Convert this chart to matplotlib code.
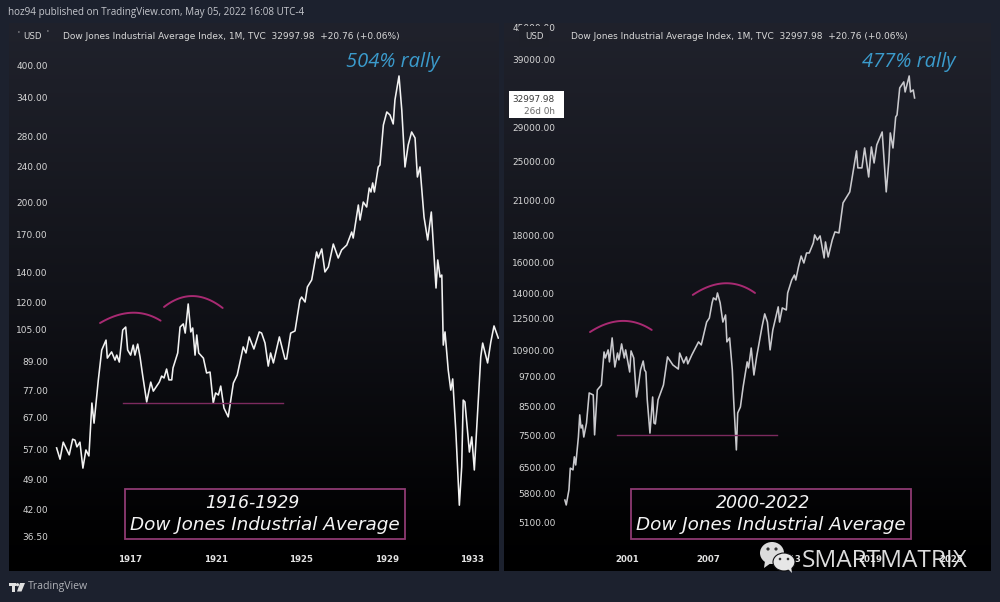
import numpy as np
import matplotlib
matplotlib.use("Agg")
from matplotlib import pyplot as plt
from matplotlib.patches import Rectangle, Ellipse, Polygon, Circle

# left panel, monthly close (1913-1934)
dow_1916_years = [
    1913.57,1913.73,1913.88,1914.16,1914.32,1914.43,1914.52,1914.66,1914.80,1914.94,
    1915.08,1915.22,1915.32,1915.52,1915.68,1915.88,1915.94,1916.14,1916.30,1916.38,
    1916.50,1916.66,1916.80,1916.89,1917.03,1917.15,1917.23,1917.36,1917.47,1917.59,
    1917.78,1917.97,1918.09,1918.37,1918.48,1918.59,1918.71,1918.82,1918.95,1919.01,
    1919.23,1919.34,1919.49,1919.58,1919.72,1919.84,1919.93,1920.04,1920.12,1920.21,
    1920.43,1920.58,1920.74,1920.89,1921.00,1921.13,1921.24,1921.39,1921.59,1921.83,
    1922.01,1922.29,1922.42,1922.57,1922.79,1923.04,1923.15,1923.31,1923.46,1923.57,
    1923.70,1923.98,1924.24,1924.32,1924.51,1924.71,1924.94,1925.02,1925.18,1925.29,
    1925.49,1925.72,1925.80,1925.96,1926.11,1926.27,1926.50,1926.73,1926.89,1927.13,
    1927.36,1927.43,1927.67,1927.75,1927.90,1928.06,1928.18,1928.26,1928.34,1928.42,
    1928.60,1928.68,1928.84,1929.00,1929.15,1929.30,1929.38,1929.57,1929.70,1929.85,
    1930.00,1930.16,1930.32,1930.43,1930.55,1930.74,1930.91,1931.08,1931.30,1931.38,
    1931.49,1931.57,1931.64,1931.72,1931.87,1931.99,1932.08,1932.23,1932.39,1932.50,
    1932.57,1932.65,1932.86,1932.97,1933.09,1933.23,1933.39,1933.48,1933.71,1933.86,
    1934.01,1934.21]
dow_1916 = [
    57.4,54.2,59.1,55.4,60.0,59.7,57.7,59.1,51.8,56.8,55.1,72.1,65.1,81.1,94.4,99.3,90.6,93.5,89.7,92.0,
    88.8,104.5,106.1,94.4,92.0,96.8,92.0,97.3,91.1,83.1,72.5,80.2,76.6,80.2,82.7,81.9,85.7,81.1,81.1,86.2,
    93.0,106.1,107.8,102.9,119.3,103.5,105.6,92.0,101.9,93.0,90.6,84.0,84.4,72.1,75.9,75.1,78.6,70.3,67.2,79.8,
    83.1,95.9,93.0,100.9,94.9,103.5,102.9,97.8,87.0,93.0,88.4,100.9,90.2,90.2,102.9,104.0,121.7,123.6,120.5,130.1,
    134.8,155.4,150.7,157.8,140.4,144.0,161.8,150.7,157.0,161.0,172.0,166.8,197.3,182.8,200.3,195.3,215.1,210.8,220.7,210.8,
    239.4,241.8,296.3,316.6,311.8,297.9,336.5,380.2,319.8,239.4,267.7,286.0,277.4,227.5,239.4,185.6,165.2,190.4,129.4,149.2,
    136.8,138.2,96.8,103.5,85.3,77.0,81.5,61.9,42.9,52.1,73.2,72.5,56.2,60.7,51.3,67.2,91.1,97.8,88.4,98.3,106.7,100.3]

# right panel (1996-2022)
dow_2000_years = [
    1996.4,1996.5,1996.7,1996.8,1997.0,1997.1,1997.2,1997.4,1997.5,1997.6,
    1997.7,1997.8,1998.0,1998.2,1998.5,1998.6,1998.8,1999.1,1999.3,1999.4,
    1999.6,1999.7,1999.9,2000.1,2000.3,2000.4,2000.6,2000.8,2000.9,2001.2,
    2001.3,2001.5,2001.7,2001.8,2002.0,2002.2,2002.3,2002.4,2002.5,2002.7,
    2002.9,2003.0,2003.1,2003.3,2003.7,2004.0,2004.4,2004.8,2004.9,2005.2,
    2005.4,2005.5,2005.8,2006.3,2006.5,2006.9,2007.1,2007.3,2007.4,2007.6,
    2007.7,2007.9,2008.1,2008.3,2008.4,2008.6,2008.8,2008.9,2009.1,2009.2,
    2009.4,2009.6,2009.9,2010.0,2010.2,2010.4,2010.6,2011.0,2011.2,2011.4,
    2011.6,2011.8,2012.2,2012.3,2012.5,2012.8,2012.9,2013.2,2013.4,2013.5,
    2013.7,2013.9,2014.1,2014.3,2014.5,2014.8,2014.9,2015.1,2015.3,2015.6,
    2015.7,2015.9,2016.2,2016.4,2016.7,2017.0,2017.5,2017.8,2018.0,2018.1,
    2018.4,2018.6,2018.9,2019.1,2019.3,2019.5,2019.9,2020.2,2020.4,2020.5,
    2020.7,2020.9,2021.0,2021.2,2021.5,2021.6,2021.9,2022.0,2022.2,2022.3]
dow_2000 = [
    5640,5520,5900,6490,6440,6820,6580,7440,8200,7740,7840,7440,7910,9030,8950,7510,
    9150,9350,10810,10530,10910,10350,11500,10120,10760,10440,11200,10530,10910,9900,
    10860,10530,8870,9150,9990,10390,9990,9900,8760,7570,8870,7910,7880,8760,9350,10580,
    10210,10030,10760,10300,10580,10260,10670,11300,11150,12330,12550,13410,13710,13590,
    14010,13410,12330,12720,11300,11500,9990,8760,7030,8270,8490,9270,10350,10080,11000,
    9770,10580,12070,12780,12330,10910,11910,13180,12330,13120,13000,14010,14830,15160,
    14830,15710,16480,15980,16700,16700,17450,18080,17680,18000,16340,17530,16410,17680,
    18320,18240,20810,21840,24370,26150,24270,24270,26490,23320,26610,24800,26850,28420,
    21840,25130,28300,26490,30360,30630,34490,35410,33880,36350,33880,34180,33000]

# axis ticks
left_yticks = [400, 340, 280, 240, 200, 170, 140, 120, 105, 89, 77, 67, 57, 49, 42, 36.5]
right_yticks = [45000, 39000, 29000, 25000, 21000, 18000, 16000, 14000, 12500, 10900,
                9700, 8500, 7500, 6500, 5800, 5100]
left_xticks = [1917, 1921, 1925, 1929, 1933]
right_xticks = [2001, 2007, 2013, 2019, 2025]

# hand drawn arcs (start, top, end) and support lines
left_arcs = [[(1915.6, 108.3), (1917.08, 114.1), (1918.43, 109.6)],
             [(1918.59, 117.5), (1919.94, 124.2), (1921.33, 116.9)]]
right_arcs = [[(1998.26, 11800), (2000.61, 12390), (2002.83, 11910)],
              [(2005.87, 13890), (2008.26, 14620), (2010.48, 14010)]]
left_support = ([1916.66, 1924.15], [72.2, 72.2])
right_support = ([2000.26, 2012.11], [7510, 7510])

title_txt = "Dow Jones Industrial Average Index, 1M, TVC  32997.98  +20.76 (+0.06%)"
OUTER = "#1c212e"
PINK = "#a82a72"
W, H = 1000, 602

fig = plt.figure(figsize=(W / 100, H / 100), dpi=100, facecolor=OUTER)

# panel backgrounds -----------------------------------------------------------
bg = fig.add_axes([0, 0, 1, 1], zorder=0)
bg.set_xlim(0, W)
bg.set_ylim(H, 0)
bg.axis("off")
ypix = np.arange(23, 572)
grad = np.stack([np.interp(ypix, [23, 300, 520, 571], [32, 17, 2, 0]),
                 np.interp(ypix, [23, 300, 520, 571], [34, 18, 2, 0]),
                 np.interp(ypix, [23, 300, 520, 571], [44, 24, 3, 0])], axis=1) / 255
grad = grad[:, np.newaxis, :]
bg.imshow(grad, extent=[9, 499, 571, 23], aspect="auto", interpolation="bilinear")
bg.imshow(grad, extent=[504, 991, 571, 23], aspect="auto", interpolation="bilinear")
bg.set_xlim(0, W)
bg.set_ylim(H, 0)


def make_panel(x0, x1, xlim, ylim, yticks, ylabels, xticks, pad):
    ax = fig.add_axes([x0 / W, 1 - 571 / H, (x1 - x0) / W, 548 / H], zorder=1)
    ax.patch.set_alpha(0)
    ax.set_yscale("log")
    ax.set_xlim(*xlim)
    ax.set_ylim(*ylim)
    ax.set_yticks(yticks, ylabels)
    ax.set_xticks(xticks, [str(t) for t in xticks])
    ax.minorticks_off()
    # pads are in points, negative puts the labels inside the panel
    ax.tick_params(axis="y", length=0, pad=pad, labelsize=6.5, labelcolor="#d6d6d6")
    ax.tick_params(axis="x", length=0, pad=-11.2, labelsize=6.2, labelcolor="#e2e2e2")
    for t in ax.get_xticklabels():
        t.set_fontweight("bold")
    for s in ax.spines.values():
        s.set_visible(False)
    return ax


def draw_arc(ax, arc):
    # quadratic through the three read points, straight in log space
    (xa, ya), (xm, ym), (xb, yb) = arc
    la, lm, lb = np.log(ya), np.log(ym), np.log(yb)
    t = np.linspace(0, 1, 40)
    cx = 2 * xm - (xa + xb) / 2
    cy = 2 * lm - (la + lb) / 2
    xs = (1 - t) ** 2 * xa + 2 * t * (1 - t) * cx + t ** 2 * xb
    ys = (1 - t) ** 2 * la + 2 * t * (1 - t) * cy + t ** 2 * lb
    ax.plot(xs, np.exp(ys), color=PINK, lw=1.4, solid_capstyle="round")


ax1 = make_panel(9, 499, (1911.346, 1934.243), (30.7, 497.7), left_yticks,
                 ["%.2f" % v for v in left_yticks], left_xticks, -28)
ax1.plot(dow_1916_years, dow_1916, color="#f2f2f2", lw=1.15)
for arc in left_arcs:
    draw_arc(ax1, arc)
ax1.plot(*left_support, color="#7c2a5e", lw=1)

ax2 = make_panel(504, 991, (1991.89, 2027.96), (4130, 45870), right_yticks,
                 ["%.2f" % v for v in right_yticks], right_xticks, -37)
ax2.plot(dow_2000_years, dow_2000, color="#c9c9cd", lw=1.15)
for arc in right_arcs:
    draw_arc(ax2, arc)
ax2.plot(*right_support, color="#7c2a5e", lw=1)

# everything else sits on a pixel overlay -------------------------------------
ov = fig.add_axes([0, 0, 1, 1], zorder=2)
ov.set_xlim(0, W)
ov.set_ylim(H, 0)
ov.axis("off")

ov.text(8.5, 13, "hoz94 published on TradingView.com, May 05, 2022 16:08 UTC-4", fontsize=7.1,
        family="Open Sans", color="#c4c6cc", va="center")
ov.text(63, 36.5, title_txt, fontsize=6.5, family="DejaVu Sans", color="#d8d8d8", va="center")
ov.text(571, 36.5, title_txt, fontsize=6.5, family="DejaVu Sans", color="#d8d8d8", va="center")

ov.text(33, 36.5, "USD", fontsize=6.2, color="#d8d8d8", ha="center", va="center")
ov.text(18, 33, "'", fontsize=5, color="#d8d8d8", ha="center", va="center")
ov.text(47, 32, "'", fontsize=5, color="#d8d8d8", ha="center", va="center")
ov.text(534, 36.5, "USD", fontsize=6.2, color="#d8d8d8", ha="center", va="center",
        bbox=dict(boxstyle="square,pad=0.7", fc="#1e2029", ec="none"))

ov.text(392.5, 62, "504% rally", fontsize=14.5, family="Open Sans", style="italic",
        color="#3b9bcc", ha="center", va="center")
ov.text(908.5, 62.5, "477% rally", fontsize=14.5, family="Open Sans", style="italic",
        color="#3b9bcc", ha="center", va="center")

# last price tag
ov.add_patch(Rectangle((509, 91), 54.5, 27, fc="white", ec="none"))
ov.text(554.5, 99, "32997.98", fontsize=6.4, color="#3a3a3a", ha="right", va="center")
ov.text(554.5, 111, "26d 0h", fontsize=6.4, color="#6a6a6a", ha="right", va="center")

# title boxes
for x0, period, cx in [(125, "1916-1929", 252), (631, "2000-2022", 763)]:
    ov.add_patch(Rectangle((x0, 489), 280, 50, fc="none", ec="#8e3a72", lw=1.3))
    ov.text(cx, 503, period, fontsize=12.5, style="oblique", color="#f4f4f4", ha="center", va="center")
    ov.text(x0 + 140, 524.5, "Dow Jones Industrial Average", fontsize=13.2, style="oblique",
            color="#f4f4f4", ha="center", va="center")

# TradingView mark
ov.add_patch(Rectangle((8.5, 583), 7, 3, fc="#e0e0e0", ec="none"))
ov.add_patch(Rectangle((11.5, 586), 3.5, 5.5, fc="#e0e0e0", ec="none"))
ov.add_patch(Circle((17.5, 584.7), 1.6, fc="#e0e0e0", ec="none"))
ov.add_patch(Polygon([(20, 583), (25, 583), (21.5, 591.5), (17, 591.5)], fc="#e0e0e0", ec="none"))
ov.text(28, 587, "TradingView", fontsize=7.6, family="Open Sans", color="#b0b2b8", va="center")

# watermark
ov.add_patch(Ellipse((772, 553), 24, 22, fc="#dcdcdc", ec="none"))
ov.add_patch(Polygon([(765, 561), (764, 568), (771, 563)], fc="#dcdcdc", ec="none"))
ov.add_patch(Ellipse((784, 562), 22, 18, fc="#e6e6e6", ec="#101012", lw=0.8))
ov.add_patch(Polygon([(788, 569), (792, 573), (791, 566)], fc="#e6e6e6", ec="none"))
for ex, ey, er in [(768, 549, 1.6), (776, 549, 1.6), (780, 559, 1.3), (788, 559, 1.3)]:
    ov.add_patch(Circle((ex, ey), er, fc="#333333", ec="none"))
ov.text(802, 561, "SMARTMATRIX", fontsize=17.6, family="Open Sans", color="#f0f0f0", va="center", alpha=0.92)

fig.savefig("out.png", dpi=100, facecolor=OUTER)
